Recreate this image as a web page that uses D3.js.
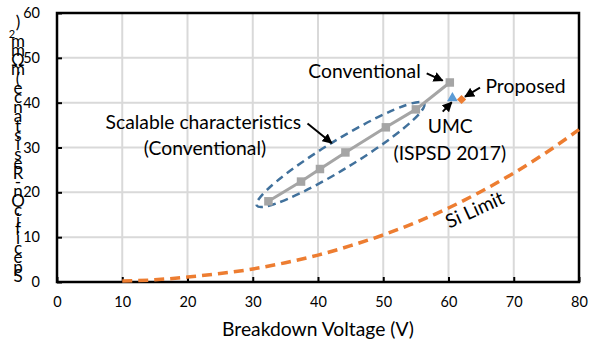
<!DOCTYPE html>
<html>
<head>
<meta charset="utf-8">
<script src="https://cdn.jsdelivr.net/npm/d3@7"></script>
<style>
  body { margin: 0; background: #fff; }
  svg { display: block; }
  text { font-family: Lato, "Open Sans", sans-serif; fill: #000; }
</style>
</head>
<body>
<svg id="chart" width="589" height="347"></svg>
<script>
// Axis ticks
const xTicks = [0, 10, 20, 30, 40, 50, 60, 70, 80];
const yTicks = [0, 10, 20, 30, 40, 50, 60];

// Conventional devices (scalable series)
const convVoltage    = [32.4, 37.4, 40.3, 44.2, 50.4, 55.0, 60.2];
const convResistance = [18.0, 22.4, 25.2, 28.9, 34.5, 38.5, 44.5];

// UMC (ISPSD 2017)
const umcVoltage    = [60.6];
const umcResistance = [41.0];

// Proposed device
const proposedVoltage    = [62.0];
const proposedResistance = [40.7];

// Si limit
const siVoltage    = [10, 15, 20, 25, 30, 35, 40, 45, 50, 55, 60, 65, 70, 75, 80];
const siResistance = [0.2, 0.5, 1.1, 1.9, 2.9, 4.3, 6.0, 8.1, 10.5, 13.3, 16.5, 20.2, 24.3, 28.9, 34.0];

const xTitle = "Breakdown Voltage (V)";
const yTitle = "Specific On-Resistance (mΩmm2)";

const W = 589, H = 347;
const m = { left: 57, right: 10, top: 13, bottom: 65 };

const svg = d3.select("#chart");
const x = d3.scaleLinear().domain([0, 80]).range([m.left, W - m.right]);
const y = d3.scaleLinear().domain([0, 60]).range([H - m.bottom, m.top]);

const GRID = "#d9d9d9", GRAY = "#a5a5a5", ORANGE = "#ed7d31", BLUE = "#5b9bd5", ELLIPSE = "#41719c";
const LABEL_SIZE = 19.3;
const FONT = "Lato, 'Open Sans', sans-serif";

// gridlines
svg.append("g").selectAll("line").data(xTicks.slice(1, -1)).join("line")
  .attr("x1", d => x(d)).attr("x2", d => x(d))
  .attr("y1", y(0)).attr("y2", y(60))
  .attr("stroke", GRID).attr("stroke-width", 2);
svg.append("g").selectAll("line").data(yTicks.slice(1, -1)).join("line")
  .attr("x1", x(0)).attr("x2", x(80))
  .attr("y1", d => y(d)).attr("y2", d => y(d))
  .attr("stroke", GRID).attr("stroke-width", 2);

// frame
svg.append("rect")
  .attr("x", x(0)).attr("y", y(60))
  .attr("width", x(80) - x(0)).attr("height", y(0) - y(60))
  .attr("fill", "none").attr("stroke", "#000").attr("stroke-width", 2.5);

// axes (inside ticks, labels outside)
const xAxis = svg.append("g").attr("transform", `translate(0,${y(0)})`)
  .call(d3.axisBottom(x).tickValues(xTicks).tickSizeInner(-5).tickSizeOuter(0).tickPadding(15));
const yAxis = svg.append("g").attr("transform", `translate(${x(0)},0)`)
  .call(d3.axisLeft(y).tickValues(yTicks).tickSizeInner(-5).tickSizeOuter(0).tickPadding(17));
[xAxis, yAxis].forEach(g => {
  g.select(".domain").remove();
  g.selectAll(".tick line").attr("stroke", "#000").attr("stroke-width", 2);
  g.selectAll(".tick text").attr("font-family", FONT).attr("font-size", 14.5).attr("fill", "#000");
});

// x title
svg.append("text").attr("x", (x(0) + x(80)) / 2).attr("y", 336)
  .attr("text-anchor", "middle").attr("font-size", LABEL_SIZE).text(xTitle);

// y title: one text run turned to read upwards, each glyph turned back upright
const chars = Array.from(yTitle);
const probe = svg.append("text").attr("font-size", 17);
const widths = chars.map(c => {
  probe.attr("font-size", c === "2" ? 11 : 17).text(c);
  return probe.node().getComputedTextLength();
});
probe.remove();
let step = -1;
const along = [], across = [];
chars.forEach((c, i) => {
  if (c !== " ") step += 1;
  along.push((Math.max(step, 0) * 9.4).toFixed(1));               // upwards on screen
  across.push((-widths[i] / 2 - (c === "2" ? 6 : 0)).toFixed(1)); // rightwards on screen
});
const yt = svg.append("text")
  .attr("transform", "translate(18,282) rotate(-90)")
  .attr("font-size", 17)
  .attr("x", along.join(" "))
  .attr("y", across.join(" "))
  .attr("rotate", chars.map(() => 90).join(" "));
const subAt = yTitle.lastIndexOf("2");
yt.append("tspan").text(yTitle.slice(0, subAt));
yt.append("tspan").attr("font-size", 11).text(yTitle.slice(subAt, subAt + 1));
yt.append("tspan").text(yTitle.slice(subAt + 1));

// Si limit
svg.append("path")
  .datum(siVoltage.map((v, i) => [v, siResistance[i]]))
  .attr("d", d3.line().x(d => x(d[0])).y(d => y(d[1])).curve(d3.curveMonotoneX))
  .attr("fill", "none").attr("stroke", ORANGE).attr("stroke-width", 3.5)
  .attr("stroke-dasharray", "10,6");

// ellipse around the scalable series
const ec = [43.45, 28.44];
svg.append("ellipse")
  .attr("cx", 0).attr("cy", 0).attr("rx", 98).attr("ry", 14.5)
  .attr("transform", `translate(${x(ec[0])},${y(ec[1])}) rotate(-31.4)`)
  .attr("fill", "none").attr("stroke", ELLIPSE).attr("stroke-width", 2.5)
  .attr("stroke-dasharray", "8,5");

// conventional series
const conv = convVoltage.map((v, i) => [v, convResistance[i]]);
svg.append("path").datum(conv)
  .attr("d", d3.line().x(d => x(d[0])).y(d => y(d[1])))
  .attr("fill", "none").attr("stroke", GRAY).attr("stroke-width", 3);
svg.append("g").selectAll("path").data(conv).join("path")
  .attr("d", d3.symbol(d3.symbolSquare, 72))
  .attr("transform", d => `translate(${x(d[0])},${y(d[1])})`)
  .attr("fill", GRAY);

// UMC
svg.append("g").selectAll("path").data(umcVoltage.map((v, i) => [v, umcResistance[i]])).join("path")
  .attr("d", d3.symbol(d3.symbolTriangle, 50))
  .attr("transform", d => `translate(${x(d[0])},${y(d[1])})`)
  .attr("fill", BLUE);

// Proposed
svg.append("g").selectAll("path").data(proposedVoltage.map((v, i) => [v, proposedResistance[i]])).join("path")
  .attr("d", d3.symbol(d3.symbolSquare, 42))
  .attr("transform", d => `translate(${x(d[0])},${y(d[1])}) rotate(45)`)
  .attr("fill", ORANGE);

// arrowheads
svg.append("defs").append("marker")
  .attr("id", "head").attr("viewBox", "0 0 10 10")
  .attr("refX", 9).attr("refY", 5)
  .attr("markerWidth", 5).attr("markerHeight", 5)
  .attr("markerUnits", "strokeWidth").attr("orient", "auto")
  .append("path").attr("d", "M0,0 L10,5 L0,10 Z").attr("fill", "#000");

const arrows = [
  { from: [56.66, 46.55], to: [59.1, 44.9] },
  { from: [64.83, 43.34], to: [62.53, 41.33] },
  { from: [59.11, 37.99], to: [60.49, 40.08] },
  { from: [38.39, 35.36], to: [42.1, 31.0] }
];
svg.append("g").selectAll("line").data(arrows).join("line")
  .attr("x1", d => x(d.from[0])).attr("y1", d => y(d.from[1]))
  .attr("x2", d => x(d.to[0])).attr("y2", d => y(d.to[1]))
  .attr("stroke", "#000").attr("stroke-width", 2)
  .attr("marker-end", "url(#head)");

// annotation labels
const labels = [
  { t: "Conventional", at: [47.13, 45.44] },
  { t: "Proposed", at: [71.8, 42.1] },
  { t: "UMC", at: [60.26, 33.17] },
  { t: "(ISPSD 2017)", at: [60.2, 27.2] },
  { t: "Scalable characteristics", at: [22.43, 34.06] },
  { t: "(Conventional)", at: [22.68, 28.33] }
];
svg.append("g").selectAll("text").data(labels).join("text")
  .attr("x", d => x(d.at[0])).attr("y", d => y(d.at[1]))
  .attr("text-anchor", "middle").attr("font-size", LABEL_SIZE)
  .text(d => d.t);

svg.append("text")
  .attr("transform", `translate(${x(64.44)},${y(14.76)}) rotate(-24.5)`)
  .attr("text-anchor", "middle").attr("font-size", LABEL_SIZE)
  .text("Si Limit");
</script>
</body>
</html>
